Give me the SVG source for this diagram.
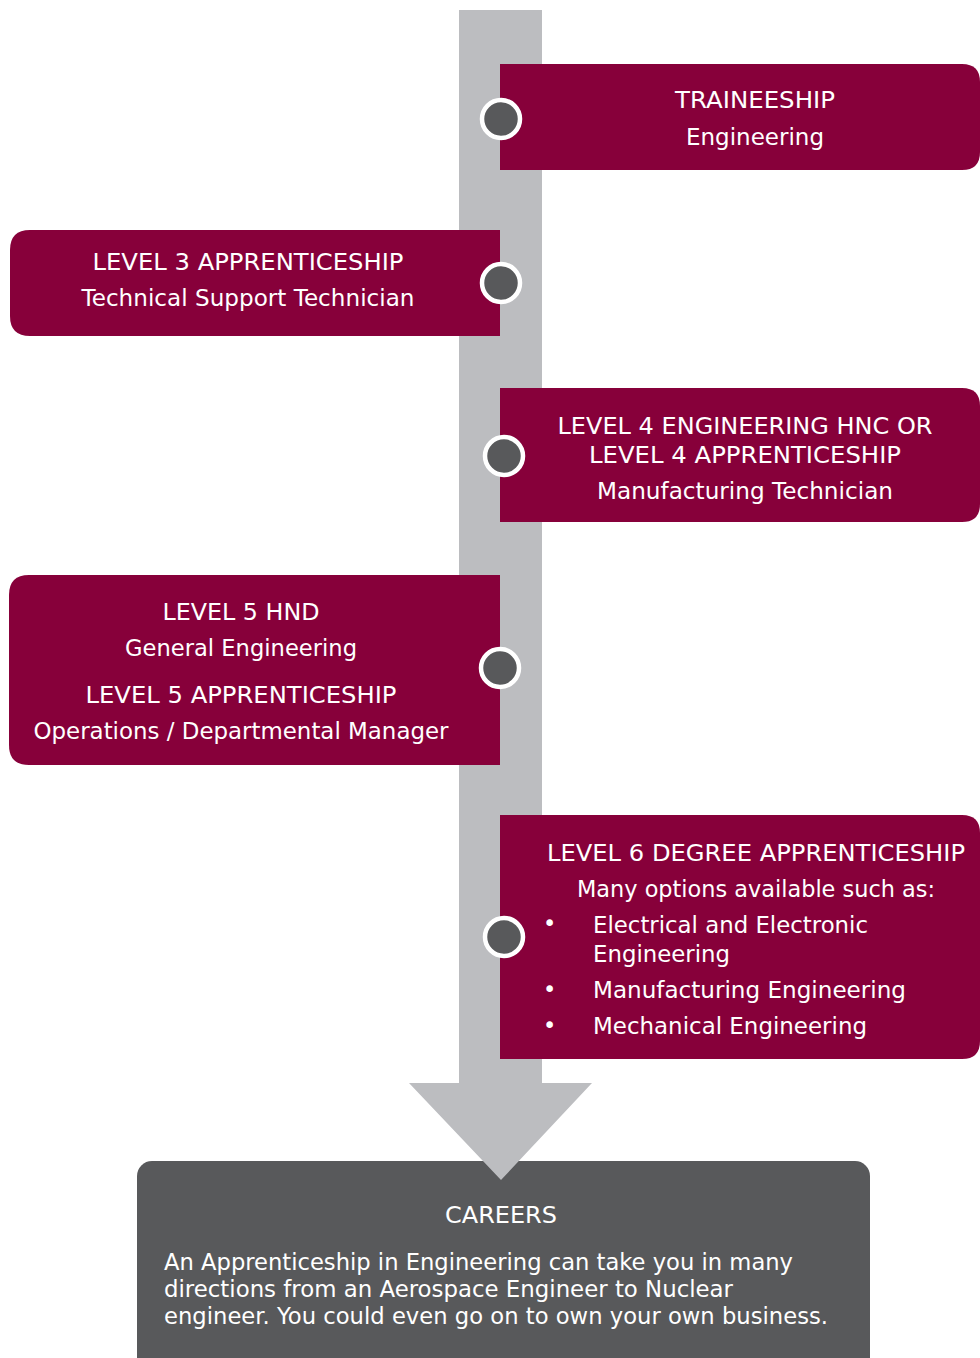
<svg xmlns="http://www.w3.org/2000/svg" width="980" height="1358" viewBox="0 0 980 1358">
<style>
.box{fill:#87003a}
.dark{fill:#58595b}
.bar{fill:#bcbdc0}
.dot{fill:#58595b;stroke:#ffffff;stroke-width:4.5}
text{font-family:"DejaVu Sans","Open Sans",sans-serif;font-size:22.5px;fill:#ffffff}
.c{text-anchor:middle}
</style>
<rect width="980" height="1358" fill="#ffffff"/>
<g id="careers">
<rect class="dark" x="137" y="1161" width="733" height="215" rx="15"/>
<text class="c" x="501" y="1223" textLength="112" lengthAdjust="spacingAndGlyphs">CAREERS</text>
<text x="164" y="1270" textLength="629" lengthAdjust="spacingAndGlyphs">An Apprenticeship in Engineering can take you in many</text>
<text x="164" y="1297" textLength="569" lengthAdjust="spacingAndGlyphs">directions from an Aerospace Engineer to Nuclear</text>
<text x="164" y="1324" textLength="664" lengthAdjust="spacingAndGlyphs">engineer. You could even go on to own your own business.</text>
</g>
<g id="connectors">
<polygon class="bar" points="459,10 542,10 542,1083 592,1083 501,1180 409,1083 459,1083"/>
</g>
<g id="traineeship">
<path class="box" d="M500,64 H962 Q980,64 980,82 V152 Q980,170 962,170 H500 Z"/>
<circle class="dot" cx="501" cy="119" r="19"/>
<text class="c" x="755" y="108" textLength="160" lengthAdjust="spacingAndGlyphs">TRAINEESHIP</text>
<text class="c" x="755" y="145" textLength="138" lengthAdjust="spacingAndGlyphs">Engineering</text>
</g>
<g id="level3">
<path class="box" d="M500,230 V336 H30 Q10,336 10,316 V250 Q10,230 30,230 Z"/>
<circle class="dot" cx="501" cy="283" r="19"/>
<text class="c" x="248" y="270" textLength="311" lengthAdjust="spacingAndGlyphs">LEVEL 3 APPRENTICESHIP</text>
<text class="c" x="248" y="306" textLength="333" lengthAdjust="spacingAndGlyphs">Technical Support Technician</text>
</g>
<g id="level4">
<path class="box" d="M500,388 H962 Q980,388 980,406 V504 Q980,522 962,522 H500 Z"/>
<circle class="dot" cx="504" cy="456" r="19"/>
<text class="c" x="745" y="434" textLength="375" lengthAdjust="spacingAndGlyphs">LEVEL 4 ENGINEERING HNC OR</text>
<text class="c" x="745" y="463" textLength="312" lengthAdjust="spacingAndGlyphs">LEVEL 4 APPRENTICESHIP</text>
<text class="c" x="745" y="499" textLength="296" lengthAdjust="spacingAndGlyphs">Manufacturing Technician</text>
</g>
<g id="level5">
<path class="box" d="M500,575 V765 H29 Q9,765 9,745 V595 Q9,575 29,575 Z"/>
<circle class="dot" cx="500" cy="668" r="19"/>
<text class="c" x="241" y="620" textLength="157" lengthAdjust="spacingAndGlyphs">LEVEL 5 HND</text>
<text class="c" x="241" y="656" textLength="232" lengthAdjust="spacingAndGlyphs">General Engineering</text>
<text class="c" x="241" y="703" textLength="311" lengthAdjust="spacingAndGlyphs">LEVEL 5 APPRENTICESHIP</text>
<text class="c" x="241" y="739" textLength="415" lengthAdjust="spacingAndGlyphs">Operations / Departmental Manager</text>
</g>
<g id="level6">
<path class="box" d="M500,815 H962 Q980,815 980,833 V1041 Q980,1059 962,1059 H500 Z"/>
<circle class="dot" cx="504" cy="937" r="19"/>
<text class="c" x="756" y="861" textLength="418" lengthAdjust="spacingAndGlyphs">LEVEL 6 DEGREE APPRENTICESHIP</text>
<text class="c" x="756" y="897" textLength="358" lengthAdjust="spacingAndGlyphs">Many options available such as:</text>
<text x="543" y="931">•</text>
<text x="593" y="933" textLength="275" lengthAdjust="spacingAndGlyphs">Electrical and Electronic</text>
<text x="593" y="962" textLength="137" lengthAdjust="spacingAndGlyphs">Engineering</text>
<text x="543" y="997">•</text>
<text x="593" y="998" textLength="313" lengthAdjust="spacingAndGlyphs">Manufacturing Engineering</text>
<text x="543" y="1033">•</text>
<text x="593" y="1034" textLength="274" lengthAdjust="spacingAndGlyphs">Mechanical Engineering</text>
</g>
</svg>
